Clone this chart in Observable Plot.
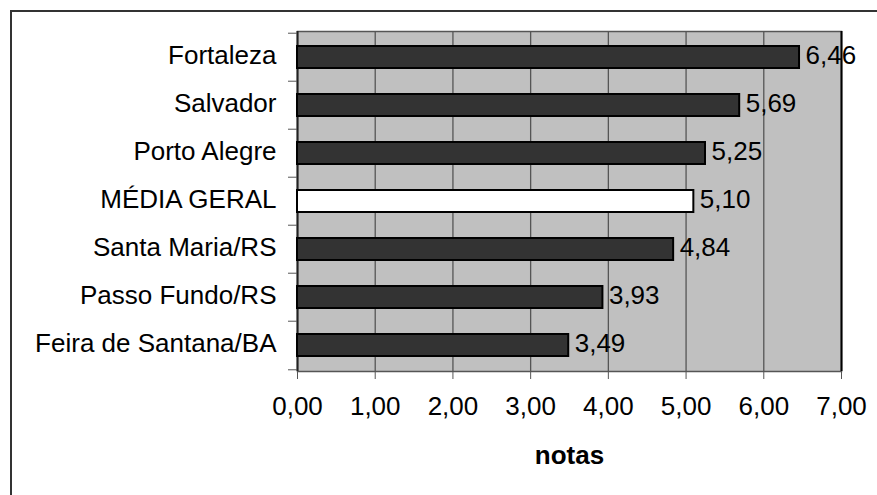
<!DOCTYPE html>
<html>
<head>
<meta charset="utf-8">
<script src="https://cdn.jsdelivr.net/npm/d3@7"></script>
<script src="https://cdn.jsdelivr.net/npm/@observablehq/plot@0.6"></script>
<style>
  html, body { margin: 0; padding: 0; background: #fff; }
  #wrap { position: relative; width: 877px; height: 495px; overflow: hidden; }
  #border { position: absolute; left: 10px; top: 10px; width: 900px; height: 600px;
            border-left: 2px solid #333; border-top: 2px solid #333; pointer-events: none; }
</style>
</head>
<body>
<div id="wrap"><div id="border"></div></div>
<script>
// Average grades per city
const cities = ["Fortaleza", "Salvador", "Porto Alegre", "MÉDIA GERAL", "Santa Maria/RS", "Passo Fundo/RS", "Feira de Santana/BA"];
const grades = [6.46, 5.69, 5.25, 5.10, 4.84, 3.93, 3.49];
const xTicks = [0, 1, 2, 3, 4, 5, 6, 7];
const overallLabel = "MÉDIA GERAL";
const xLabel = "notas";

const data = cities.map((city, i) => ({city, grade: grades[i]}));
const fmt = v => v.toFixed(2).replace(".", ",");

const W = 877, H = 495;
const margin = {top: 31, right: 36, bottom: 124, left: 297};
const step = (H - margin.top - margin.bottom) / cities.length;
const FS = 26;

const chart = Plot.plot({
  width: W,
  height: H,
  marginTop: margin.top,
  marginRight: margin.right,
  marginBottom: margin.bottom,
  marginLeft: margin.left,
  style: {fontFamily: "'Liberation Sans', Arial, sans-serif", fontSize: FS + "px", color: "#000", background: "transparent"},
  x: {domain: [0, 7]},
  y: {domain: cities, paddingInner: 0.55, paddingOuter: 0.275},
  marks: [
    Plot.frame({fill: "#c0c0c0", stroke: null}),
    Plot.gridX({ticks: xTicks.slice(1, -1), stroke: "#555", strokeOpacity: 1, strokeWidth: 1.3}),
    Plot.frame({stroke: "#555", strokeWidth: 1.5}),
    Plot.ruleX([7], {stroke: "#000", strokeWidth: 2}),
    Plot.ruleX([0], {stroke: "#222", strokeWidth: 2}),
    Plot.barX(data, {
      x: "grade",
      y: "city",
      fill: d => d.city === overallLabel ? "#ffffff" : "#333333",
      stroke: "#000",
      strokeWidth: 2
    }),
    Plot.text(data, {
      x: "grade",
      y: "city",
      text: d => fmt(d.grade),
      textAnchor: "start",
      dx: 6,
      dy: -2,
      fill: "#000",
      fontSize: FS
    }),
    // category boundary ticks
    Plot.axisY(cities, {tickSize: 9, dy: -step / 2, tickFormat: () => "", label: null, stroke: "#555"}),
    Plot.axisY([cities[cities.length - 1]], {tickSize: 9, dy: step / 2, tickFormat: () => "", label: null, stroke: "#555"}),
    // category labels
    Plot.axisY(cities, {tickSize: 0, tickPadding: 21, dy: -2, label: null, fontSize: FS, fill: "#000"}),
    Plot.axisX({ticks: xTicks, tickSize: 8, tickPadding: 17, tickFormat: fmt, label: null, fontSize: FS, fill: "#000", stroke: "#555"}),
    Plot.text([xLabel], {frameAnchor: "bottom", dy: 92, fontWeight: "bold", fontSize: FS, fill: "#000"})
  ]
});

document.getElementById("wrap").insertBefore(chart, document.getElementById("border"));
</script>
</body>
</html>
